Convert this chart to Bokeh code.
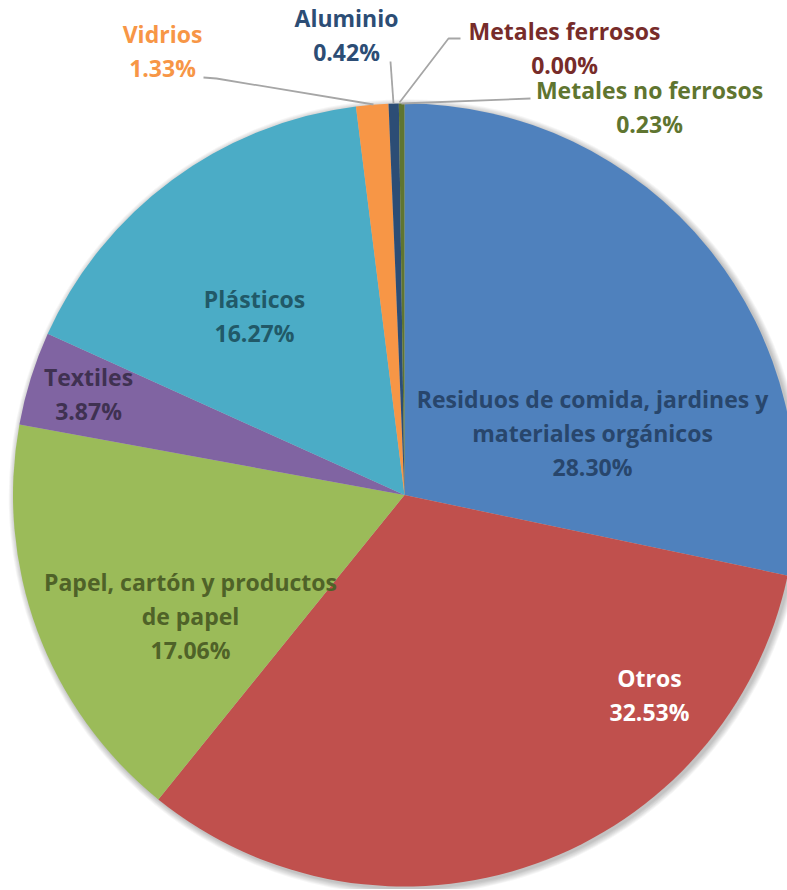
import math
from bokeh.plotting import figure
from bokeh.models import ColumnDataSource, Range1d
from bokeh.core.properties import value
from bokeh.embed import file_html
from bokeh.resources import INLINE

# ---- data ----
categories = [
    "Residuos de comida, jardines y\nmateriales orgánicos",
    "Otros",
    "Papel, cartón y productos\nde papel",
    "Textiles",
    "Plásticos",
    "Vidrios",
    "Aluminio",
    "Metales ferrosos",
    "Metales no ferrosos",
]
percentages = [28.30, 32.53, 17.06, 3.87, 16.27, 1.33, 0.42, 0.00, 0.23]

# ---- styles ----
slice_colors = ["#4F81BD", "#C0504D", "#9BBB59", "#8064A2", "#4BACC6",
                "#F79646", "#2C4D75", "#772C2A", "#5F7530"]
label_colors = ["#28466C", "#FFFFFF", "#4F6228", "#3F3151", "#215968",
                "#F79646", "#2C4D75", "#772C2A", "#5F7530"]

W, H = 787, 889
OFF = 0  # observed page offset of the figure


def px(xp):
    return xp - OFF


def py(yp):
    return (H + OFF) - yp


# layout (page pixel coordinates of the reference)
CX, CY, R = px(404), py(494.5), 391.5
label_centers = [(592, 432), (649, 694.5), (190, 615), (88, 393.5), (254, 315.5),
                 (162, 50), (346, 34), (564, 47.5), (649, 106.5)]
leaders = {
    5: [(203, 77), (216, 78), (373, 104)],
    6: [(390, 61), (393, 103)],
    7: [(460, 38), (448, 38), (399, 102)],
    8: [(530, 98), (401, 103)],
}
LINE_H = 34

p = figure(width=W, height=H, output_backend="svg", toolbar_location=None,
           x_range=Range1d(0, W), y_range=Range1d(0, H),
           min_border=0, outline_line_color=None)
p.axis.visible = False
p.grid.visible = False
p.background_fill_color = "white"

# soft shadow
for k in range(1, 8):
    p.circle(x=CX + 2, y=CY - 2, radius=R + k * 0.9, fill_color="#000000",
             fill_alpha=0.035, line_color=None)

total = sum(percentages)
starts, ends, cols, cats = [], [], [], []
cum = 0.0
for v, c, cat in zip(percentages, slice_colors, categories):
    a0 = math.pi / 2 - 2 * math.pi * cum / total
    cum += v
    a1 = math.pi / 2 - 2 * math.pi * cum / total
    if v <= 0:
        continue  # an empty slice would otherwise be drawn as a full circle
    starts.append(a0)
    ends.append(a1)
    cols.append(c)
    cats.append(cat)

src = ColumnDataSource(dict(start=starts, end=ends, color=cols, cat=cats))
p.wedge(x=CX, y=CY, radius=R, start_angle="start", end_angle="end",
        direction="clock", fill_color="color", line_color=None, source=src)

# leader lines
for i, pts in leaders.items():
    p.line([px(a) for a, b in pts], [py(b) for a, b in pts],
           line_color="#A6A6A6", line_width=1.8)

# labels
tx, ty, tt, tc = [], [], [], []
for i, (cat, v) in enumerate(zip(categories, percentages)):
    lines = cat.split("\n") + [f"{v:.2f}%"]
    cx, cy = label_centers[i]
    n = len(lines)
    for j, ln in enumerate(lines):
        yy = cy + (j - (n - 1) / 2) * LINE_H
        tx.append(px(cx))
        ty.append(py(yy))
        tt.append(ln)
        tc.append(label_colors[i])

lsrc = ColumnDataSource(dict(x=tx, y=ty, t=tt, c=tc))
p.text(x="x", y="y", text="t", text_color="c", source=lsrc,
       text_font=value("Open Sans"), text_font_style="bold", text_font_size="23px",
       text_align="center", text_baseline="middle")

open("out.html", "w").write(file_html(p, INLINE))
